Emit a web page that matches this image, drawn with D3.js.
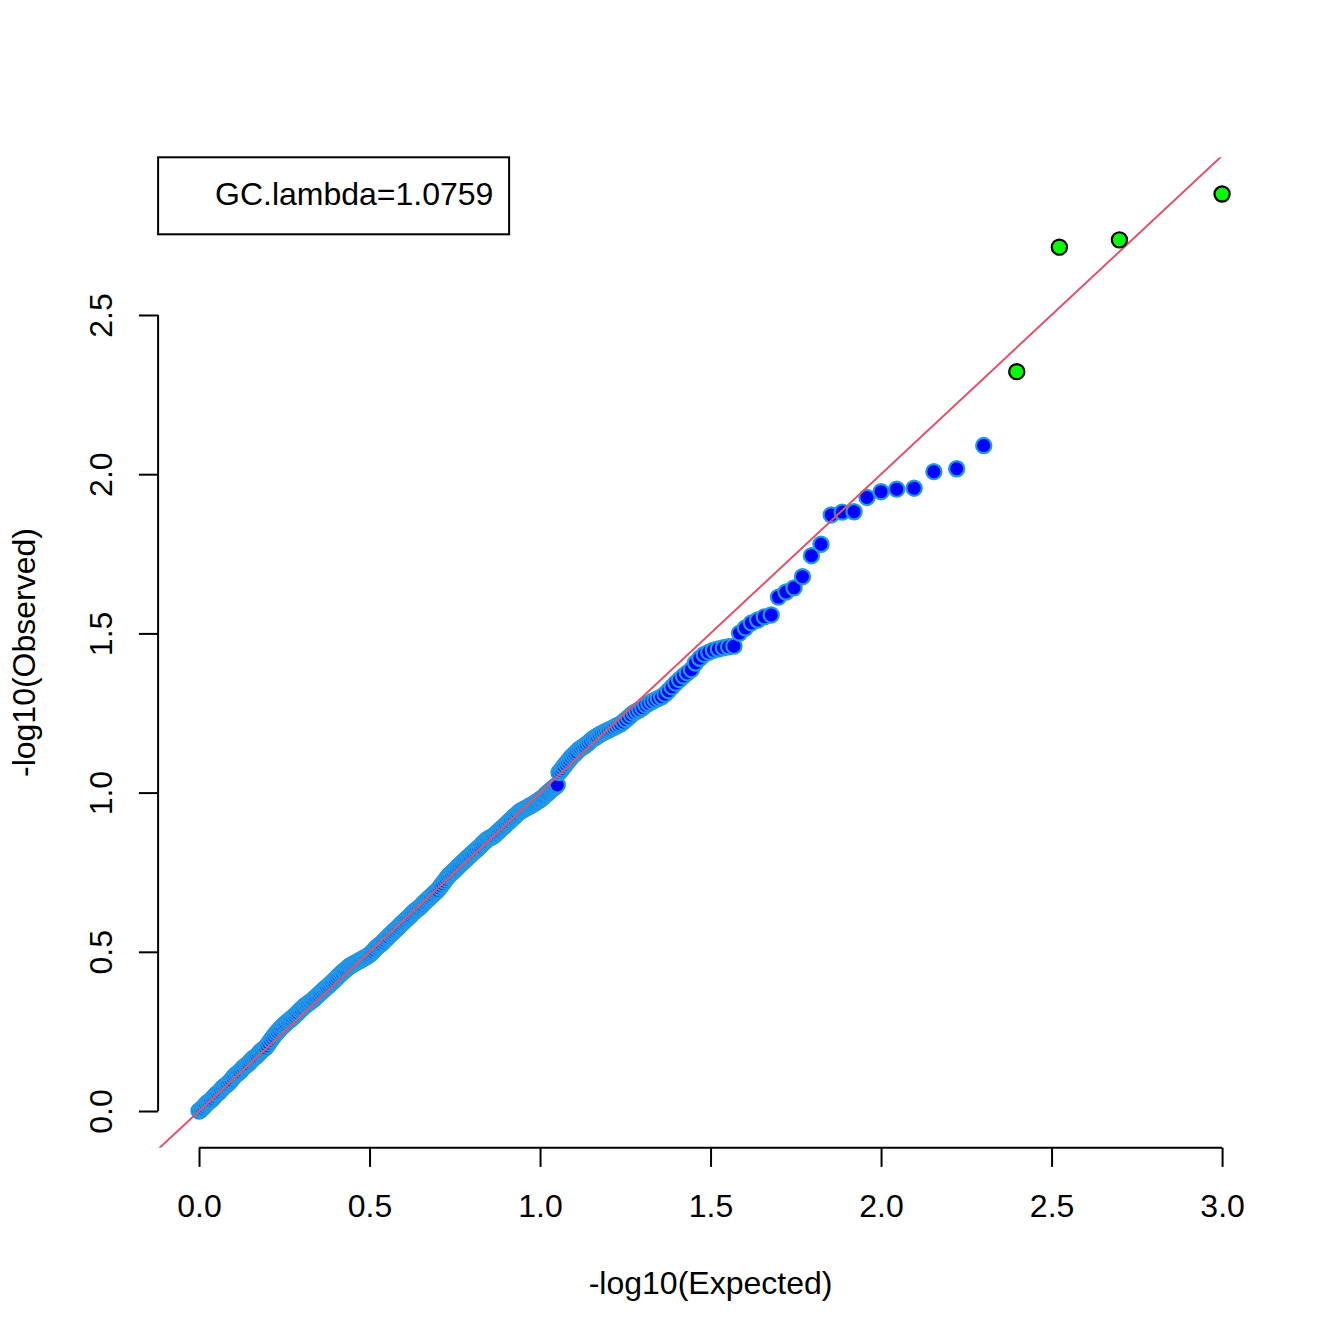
<!DOCTYPE html>
<html lang="en">
<head>
  <meta charset="UTF-8">
  <title>QQ plot</title>
  <script src="https://d3js.org/d3.v7.min.js"></script>
  <style>
    body {
      margin: 0;
      background: #fff;
    }
    svg {
      display: block;
      font-family: "Liberation Sans", Arial, Helvetica, sans-serif;
    }
    .lbl {
      font-size: 32px;
      fill: #000;
    }
  </style>
</head>
<body>
  <svg width="1344" height="1344"></svg>
  <script>
    // dense part of the curve (read along the band, rows of 10)
    const bandExpected = [
      0.000, 0.005, 0.010, 0.015, 0.020, 0.025, 0.030, 0.035, 0.040, 0.045,
      0.050, 0.055, 0.060, 0.065, 0.070, 0.075, 0.080, 0.085, 0.090, 0.095,
      0.100, 0.105, 0.110, 0.115, 0.120, 0.125, 0.130, 0.135, 0.140, 0.145,
      0.150, 0.155, 0.160, 0.165, 0.170, 0.175, 0.180, 0.185, 0.190, 0.195,
      0.200, 0.205, 0.210, 0.215, 0.220, 0.225, 0.230, 0.235, 0.240, 0.245,
      0.250, 0.255, 0.260, 0.265, 0.270, 0.275, 0.280, 0.285, 0.290, 0.295,
      0.300, 0.305, 0.310, 0.315, 0.320, 0.325, 0.330, 0.335, 0.340, 0.345,
      0.350, 0.355, 0.360, 0.365, 0.370, 0.375, 0.380, 0.385, 0.390, 0.395,
      0.400, 0.405, 0.410, 0.415, 0.420, 0.425, 0.430, 0.435, 0.440, 0.445,
      0.450, 0.455, 0.460, 0.465, 0.470, 0.475, 0.480, 0.485, 0.490, 0.495,
      0.500, 0.505, 0.510, 0.515, 0.520, 0.525, 0.530, 0.535, 0.540, 0.545,
      0.550, 0.555, 0.560, 0.565, 0.570, 0.575, 0.580, 0.585, 0.590, 0.595,
      0.600, 0.605, 0.610, 0.615, 0.620, 0.625, 0.630, 0.635, 0.640, 0.645,
      0.650, 0.655, 0.660, 0.665, 0.670, 0.675, 0.680, 0.685, 0.690, 0.695,
      0.700, 0.705, 0.710, 0.715, 0.720, 0.725, 0.730, 0.735, 0.740, 0.745,
      0.750, 0.755, 0.760, 0.765, 0.770, 0.775, 0.780, 0.785, 0.790, 0.795,
      0.800, 0.805, 0.810, 0.815, 0.820, 0.825, 0.830, 0.835, 0.840, 0.845,
      0.850, 0.855, 0.860, 0.865, 0.870, 0.875, 0.880, 0.885, 0.890, 0.895,
      0.900, 0.905, 0.910, 0.915, 0.920, 0.925, 0.930, 0.935, 0.940, 0.945,
      0.950, 0.955, 0.960, 0.965, 0.970, 0.975, 0.980, 0.985, 0.990, 0.995
    ];
    const bandObserved = [
      0.000, 0.004, 0.009, 0.015, 0.021, 0.026, 0.030, 0.034, 0.040, 0.046,
      0.052, 0.056, 0.061, 0.067, 0.073, 0.078, 0.082, 0.086, 0.092, 0.098,
      0.105, 0.111, 0.116, 0.120, 0.124, 0.130, 0.136, 0.141, 0.145, 0.149,
      0.155, 0.161, 0.166, 0.170, 0.174, 0.180, 0.186, 0.191, 0.195, 0.199,
      0.206, 0.214, 0.222, 0.229, 0.236, 0.243, 0.249, 0.255, 0.261, 0.266,
      0.271, 0.276, 0.281, 0.285, 0.289, 0.294, 0.299, 0.304, 0.309, 0.315,
      0.320, 0.325, 0.330, 0.334, 0.338, 0.342, 0.346, 0.350, 0.355, 0.360,
      0.365, 0.370, 0.375, 0.380, 0.385, 0.389, 0.394, 0.399, 0.404, 0.409,
      0.414, 0.420, 0.425, 0.430, 0.435, 0.440, 0.444, 0.449, 0.454, 0.457,
      0.460, 0.463, 0.466, 0.469, 0.472, 0.475, 0.478, 0.481, 0.484, 0.487,
      0.491, 0.496, 0.501, 0.507, 0.513, 0.518, 0.522, 0.526, 0.531, 0.537,
      0.542, 0.547, 0.553, 0.558, 0.563, 0.568, 0.573, 0.578, 0.584, 0.589,
      0.594, 0.599, 0.604, 0.609, 0.614, 0.620, 0.625, 0.630, 0.634, 0.638,
      0.643, 0.648, 0.654, 0.659, 0.664, 0.669, 0.674, 0.679, 0.684, 0.689,
      0.694, 0.701, 0.708, 0.715, 0.722, 0.729, 0.736, 0.742, 0.747, 0.752,
      0.757, 0.762, 0.768, 0.773, 0.778, 0.783, 0.788, 0.793, 0.798, 0.803,
      0.808, 0.813, 0.818, 0.822, 0.827, 0.832, 0.838, 0.843, 0.848, 0.853,
      0.856, 0.859, 0.862, 0.865, 0.870, 0.875, 0.880, 0.885, 0.890, 0.895,
      0.900, 0.905, 0.910, 0.915, 0.920, 0.925, 0.930, 0.935, 0.940, 0.943,
      0.946, 0.949, 0.952, 0.955, 0.958, 0.961, 0.964, 0.967, 0.971, 0.975
    ];

    // individual points, ranks 100 down to 5
    const tailExpected = [
      1.0000, 1.0044, 1.0088, 1.0132, 1.0177, 1.0223, 1.0269, 1.0315, 1.0362, 1.0410,
      1.0458, 1.0506, 1.0555, 1.0605, 1.0655, 1.0706, 1.0757, 1.0809, 1.0862, 1.0915,
      1.0969, 1.1024, 1.1079, 1.1135, 1.1192, 1.1249, 1.1308, 1.1367, 1.1427, 1.1487,
      1.1549, 1.1612, 1.1675, 1.1739, 1.1805, 1.1871, 1.1938, 1.2007, 1.2076, 1.2147,
      1.2218, 1.2291, 1.2366, 1.2441, 1.2518, 1.2596, 1.2676, 1.2757, 1.2840, 1.2924,
      1.3010, 1.3098, 1.3188, 1.3279, 1.3372, 1.3468, 1.3565, 1.3665, 1.3768, 1.3872,
      1.3979, 1.4089, 1.4202, 1.4318, 1.4437, 1.4559, 1.4685, 1.4815, 1.4949, 1.5086,
      1.5229, 1.5376, 1.5528, 1.5686, 1.5850, 1.6021, 1.6198, 1.6383, 1.6576, 1.6778,
      1.6990, 1.7213, 1.7447, 1.7696, 1.7959, 1.8239, 1.8539, 1.8861, 1.9208, 1.9586,
      2.0000, 2.0458, 2.0969, 2.1549, 2.2218, 2.3010
    ];
    const tailObserved = [
      0.977, 0.982, 0.985, 0.990, 0.995, 0.998, 1.003, 1.008, 1.012, 1.016,
      1.020, 1.024, 1.063, 1.069, 1.076, 1.083, 1.090, 1.097, 1.104, 1.111,
      1.117, 1.122, 1.128, 1.135, 1.139, 1.143, 1.147, 1.152, 1.157, 1.163,
      1.169, 1.173, 1.177, 1.182, 1.186, 1.189, 1.193, 1.196, 1.200, 1.204,
      1.208, 1.212, 1.216, 1.222, 1.229, 1.236, 1.244, 1.251, 1.256, 1.261,
      1.267, 1.275, 1.280, 1.286, 1.291, 1.296, 1.301, 1.309, 1.320, 1.332,
      1.344, 1.355, 1.366, 1.376, 1.386, 1.407, 1.422, 1.434, 1.441, 1.447,
      1.451, 1.455, 1.458, 1.460, 1.501, 1.517, 1.533, 1.542, 1.552, 1.558,
      1.614, 1.630, 1.643, 1.678, 1.744, 1.780, 1.872, 1.881, 1.882, 1.927,
      1.945, 1.953, 1.956, 2.008, 2.017, 2.090
    ];

    // top four hits (green)
    const hitExpected = [2.3979, 2.5229, 2.6990, 3.0000];
    const hitObserved = [2.322, 2.713, 2.736, 2.880];

    const xTicks = [0, 0.5, 1, 1.5, 2, 2.5, 3];
    const yTicks = [0, 0.5, 1, 1.5, 2, 2.5];
    const legendText = "GC.lambda=1.0759";
    const xTitle = "-log10(Expected)";
    const yTitle = "-log10(Observed)";

    const svg = d3.select("svg");
    const plot = {left: 158.1, right: 1263, top: 157.3, bottom: 1147.7};
    const line = 38.4; // one margin line in px
    const r = 7.6;

    const blue = bandExpected.map((e, i) => ({e, o: bandObserved[i]}))
      .concat(tailExpected.map((e, i) => ({e, o: tailObserved[i]})));
    const hits = hitExpected.map((e, i) => ({e, o: hitObserved[i]}));
    const all = blue.concat(hits);

    // R style 4% extension of data range
    const pad = ext => [ext[0] - 0.04 * (ext[1] - ext[0]), ext[1] + 0.04 * (ext[1] - ext[0])];
    const x = d3.scaleLinear()
      .domain(pad(d3.extent(all, d => d.e)))
      .range([plot.left, plot.right]);
    const y = d3.scaleLinear()
      .domain(pad(d3.extent(all, d => d.o)))
      .range([plot.bottom, plot.top]);

    svg.append("rect").attr("width", 1344).attr("height", 1344).attr("fill", "#fff");

    svg.append("defs").append("clipPath").attr("id", "plotclip")
      .append("rect")
      .attr("x", plot.left).attr("y", plot.top)
      .attr("width", plot.right - plot.left).attr("height", plot.bottom - plot.top);

    // blue points
    svg.append("g").selectAll("circle")
      .data(blue)
      .enter().append("circle")
      .attr("cx", d => x(d.e))
      .attr("cy", d => y(d.o))
      .attr("r", r)
      .attr("fill", "#0000FF")
      .attr("stroke", "#2297E6")
      .attr("stroke-width", 2.2);

    // y = x reference line
    const dom = x.domain();
    svg.append("line")
      .attr("clip-path", "url(#plotclip)")
      .attr("x1", x(dom[0])).attr("y1", y(dom[0]))
      .attr("x2", x(dom[1])).attr("y2", y(dom[1]))
      .attr("stroke", "#DF536B")
      .attr("stroke-width", 2);

    // green points
    svg.append("g").selectAll("circle")
      .data(hits)
      .enter().append("circle")
      .attr("cx", d => x(d.e))
      .attr("cy", d => y(d.o))
      .attr("r", r)
      .attr("fill", "#00FF00")
      .attr("stroke", "#000")
      .attr("stroke-width", 2.2);

    // x axis
    const gx = svg.append("g")
      .attr("transform", `translate(0,${plot.bottom})`)
      .call(d3.axisBottom(x).tickValues(xTicks).tickSize(19.2).tickFormat(d3.format(".1f")));
    gx.select(".domain").remove();
    gx.append("line")
      .attr("x1", x(xTicks[0])).attr("x2", x(xTicks[xTicks.length - 1]))
      .attr("stroke", "#000").attr("stroke-width", 2);
    gx.selectAll(".tick line").attr("stroke", "#000").attr("stroke-width", 2);
    gx.selectAll(".tick text")
      .attr("class", "lbl")
      .attr("y", 1.8 * line)
      .attr("dy", null);

    // y axis
    const gy = svg.append("g")
      .attr("transform", `translate(${plot.left},0)`)
      .call(d3.axisLeft(y).tickValues(yTicks).tickSize(19.2).tickFormat(d3.format(".1f")));
    gy.select(".domain").remove();
    gy.append("line")
      .attr("y1", y(yTicks[0])).attr("y2", y(yTicks[yTicks.length - 1]))
      .attr("stroke", "#000").attr("stroke-width", 2);
    gy.selectAll(".tick line").attr("stroke", "#000").attr("stroke-width", 2);
    gy.selectAll(".tick text")
      .attr("class", "lbl")
      .attr("x", null).attr("dy", null)
      .attr("text-anchor", "middle")
      .attr("transform", `translate(${-1.2 * line},0) rotate(-90)`);
    gx.attr("font-family", null).attr("font-size", null);
    gy.attr("font-family", null).attr("font-size", null);

    // axis titles
    svg.append("text")
      .attr("class", "lbl")
      .attr("x", (plot.left + plot.right) / 2)
      .attr("y", plot.bottom + 3.8 * line)
      .attr("text-anchor", "middle")
      .text(xTitle);
    svg.append("text")
      .attr("class", "lbl")
      .attr("transform", `translate(${plot.left - 3.2 * line},${(plot.top + plot.bottom) / 2}) rotate(-90)`)
      .attr("text-anchor", "middle")
      .text(yTitle);

    // legend box, top left of plot region
    svg.append("rect")
      .attr("x", plot.left).attr("y", plot.top)
      .attr("width", 351).attr("height", 77)
      .attr("fill", "none")
      .attr("stroke", "#000")
      .attr("stroke-width", 2);
    svg.append("text")
      .attr("class", "lbl")
      .attr("x", 215)
      .attr("y", 205)
      .text(legendText);
  </script>
</body>
</html>
